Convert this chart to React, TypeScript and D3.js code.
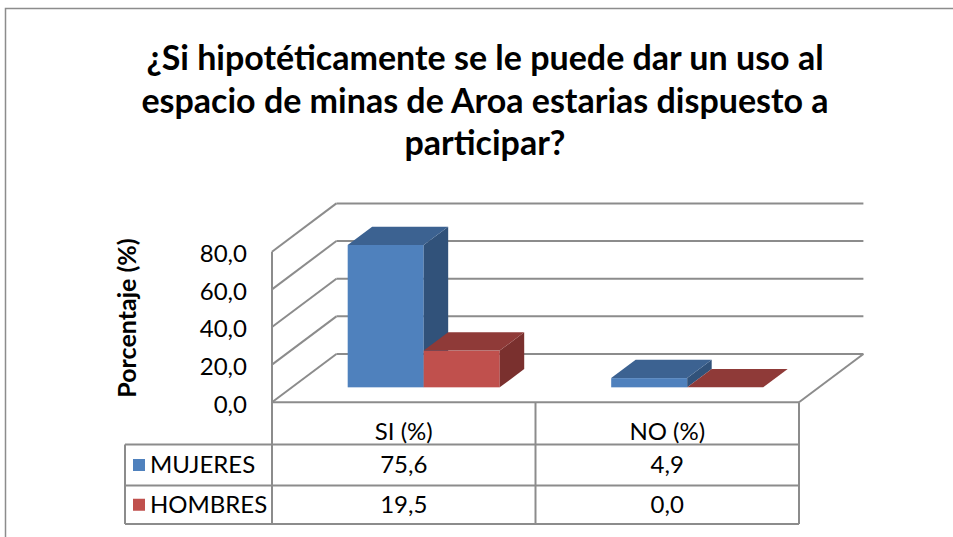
import React from "react";
import * as d3 from "d3";

const categories = ["SI (%)", "NO (%)"];
const seriesNames = ["MUJERES", "HOMBRES"];
const mujeres = [75.6, 4.9];
const hombres = [19.5, 0.0];
const yTicks = [0, 20, 40, 60, 80];
const titleLines = [
  "¿Si hipotéticamente se le puede dar un uso al",
  "espacio de minas de Aroa estarias dispuesto a",
  "participar?",
];
const axisTitle = "Porcentaje (%)";

const colors = [
  { front: "#4F81BD", top: "#3C6291", side: "#31527A" },
  { front: "#C0504D", top: "#8F3A38", side: "#7A302E" },
];

const W = 953;
const H = 537;
const FONT = "Lato, 'Open Sans', sans-serif";
const GRID = "#8C8C8C";
const FS = 24;

export default function App() {
  const x0 = 272;
  const x1 = 799;
  const yFront0 = 402.3;
  const yFront80 = 251.7;
  const DX = 64.4;
  const DY = -48.3;
  const dStart = 0.31;
  const dEnd = 0.69;

  const x = d3.scaleBand<string>().domain(categories).range([x0, x1]).padding(0);
  const xs = d3
    .scaleBand<string>()
    .domain(seriesNames)
    .range([0, x.bandwidth()])
    .paddingInner(0)
    .paddingOuter(0.733);
  const y = d3.scaleLinear().domain([0, 80]).range([yFront0, yFront80]);
  const h0 = y(0);
  const values = [mujeres, hombres];

  const bars: any[] = [];
  categories.forEach((c, ci) => {
    seriesNames.forEach((s, si) => {
      const v = values[si][ci];
      const bx = (x(c) as number) + (xs(s) as number) + DX * dStart;
      const bw = xs.bandwidth();
      const by = y(v) + DY * dStart;
      const bb = h0 + DY * dStart;
      const ddx = DX * (dEnd - dStart);
      const ddy = DY * (dEnd - dStart);
      const col = colors[si];
      const top = `M${bx},${by} L${bx + ddx},${by + ddy} L${bx + bw + ddx},${by + ddy} L${bx + bw},${by} Z`;
      const side = `M${bx + bw},${by} L${bx + bw + ddx},${by + ddy} L${bx + bw + ddx},${bb + ddy} L${bx + bw},${bb} Z`;
      bars.push(
        <g key={`${ci}-${si}`}>
          {bb - by > 0.5 && (
            <rect x={bx} y={by} width={bw} height={bb - by} fill={col.front} />
          )}
          {bb - by > 0.5 && <path d={side} fill={col.side} />}
          <path d={top} fill={col.top} />
        </g>
      );
    });
  });

  const midX = x("NO (%)") as number;
  const rowTop = [402.3, 444.5, 485.5];
  const rowBottom = 524;
  const tableLeft = 125;

  return (
    <svg width={W} height={H} style={{ display: "block", position: "absolute", left: 0, top: 0 }}>
      <rect x={0} y={0} width={W} height={H} fill="#fff" />
      <path d={`M5.5,${H} V8.5 H${W}`} fill="none" stroke={GRID} strokeWidth={1.5} />

      {titleLines.map((t, i) => (
        <text
          key={i}
          x={485}
          y={70 + i * 42.5}
          textAnchor="middle"
          fontFamily={FONT}
          fontWeight="bold"
          fontSize={34}
          fill="#000"
        >
          {t}
        </text>
      ))}

      {/* gridlines: back wall + side wall */}
      {yTicks.map((t) => {
        const yf = y(t);
        return (
          <g key={t} stroke={GRID} strokeWidth={2} fill="none">
            <line x1={x0 + DX} y1={yf + DY} x2={x1 + DX} y2={yf + DY} />
            <line x1={x0} y1={yf} x2={x0 + DX} y2={yf + DY} />
          </g>
        );
      })}
      <g stroke={GRID} strokeWidth={2} fill="none">
        <line x1={x0} y1={yFront80} x2={x0} y2={rowBottom} />
        <line x1={x0} y1={h0} x2={x1} y2={h0} />
        <line x1={x1} y1={h0} x2={x1 + DX} y2={h0 + DY} />
      </g>

      {bars}

      {/* y axis labels */}
      {yTicks.map((t) => (
        <text
          key={t}
          x={247}
          y={y(t) + 2}
          dy="0.35em"
          textAnchor="end"
          fontFamily={FONT}
          fontSize={FS}
          fill="#000"
        >
          {d3.format(".1f")(t).replace(".", ",")}
        </text>
      ))}
      <text
        transform={`translate(136,318) rotate(-90)`}
        textAnchor="middle"
        fontFamily={FONT}
        fontWeight="bold"
        fontSize={25}
        fill="#000"
      >
        {axisTitle}
      </text>

      {/* data table */}
      <g stroke={GRID} strokeWidth={2} fill="none">
        <line x1={midX} y1={rowTop[0]} x2={midX} y2={rowBottom} />
        <line x1={x1} y1={rowTop[0]} x2={x1} y2={rowBottom} />
        <line x1={tableLeft} y1={rowTop[1]} x2={x1} y2={rowTop[1]} />
        <line x1={tableLeft} y1={rowTop[2]} x2={x1} y2={rowTop[2]} />
        <line x1={tableLeft} y1={rowBottom} x2={x1} y2={rowBottom} />
        <line x1={tableLeft} y1={rowTop[1]} x2={tableLeft} y2={rowBottom} />
      </g>
      {categories.map((c) => (
        <text
          key={c}
          x={(x(c) as number) + x.bandwidth() / 2}
          y={432}
          dy="0.35em"
          textAnchor="middle"
          fontFamily={FONT}
          fontSize={FS}
          fill="#000"
        >
          {c}
        </text>
      ))}
      {seriesNames.map((s, si) => {
        const yTop = rowTop[si + 1];
        const yBot = si + 2 < rowTop.length ? rowTop[si + 2] : rowBottom;
        const cy = (yTop + yBot) / 2;
        return (
          <g key={s}>
            <rect x={133} y={cy - 6} width={12} height={12} fill={colors[si].front} />
            <text x={150} y={cy} dy="0.35em" fontFamily={FONT} fontSize={FS} fill="#000">
              {s}
            </text>
            {categories.map((c, ci) => (
              <text
                key={c}
                x={(x(c) as number) + x.bandwidth() / 2}
                y={cy}
                dy="0.35em"
                textAnchor="middle"
                fontFamily={FONT}
                fontSize={FS}
                fill="#000"
              >
                {d3.format(".1f")(values[si][ci]).replace(".", ",")}
              </text>
            ))}
          </g>
        );
      })}
    </svg>
  );
}
